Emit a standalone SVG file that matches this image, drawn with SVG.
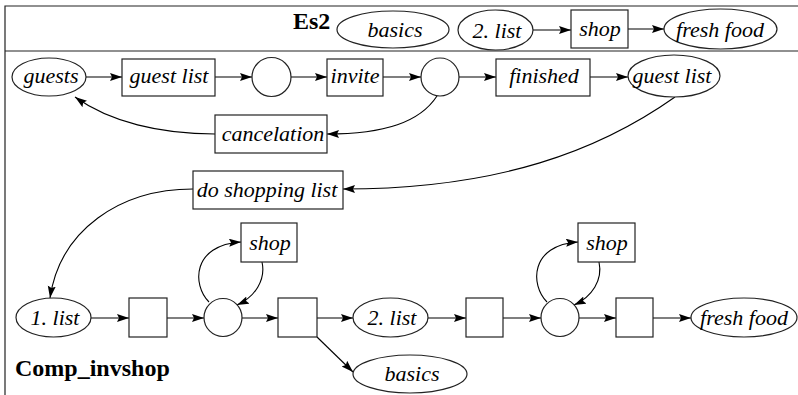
<svg xmlns="http://www.w3.org/2000/svg" width="798" height="395" viewBox="0 0 798 395">
<style>
.n{fill:#fff;stroke:#222;stroke-width:1.2}
.e{fill:none;stroke:#000;stroke-width:1.1;marker-end:url(#ah)}
.f{fill:none;stroke:#222;stroke-width:1.2}
</style>
<defs>
<marker id="ah" markerUnits="userSpaceOnUse" markerWidth="13" markerHeight="9" refX="12" refY="4" orient="auto">
<path d="M0,0 L12,4 L0,8 L2,4 z" fill="#000"/>
</marker>
</defs>
<g id="frame">
<path class="f" d="M5,395 V6 H798 M5,51 H798"/>
<text x="293" y="29" font-family="Liberation Serif" font-weight="bold" font-size="24">Es2</text>
<text x="15" y="376" font-family="Liberation Serif" font-weight="bold" font-size="24">Comp_invshop</text>
</g>
<g id="connectors">
<path class="e" d="M533,30 H571"/>
<path class="e" d="M628,29 H664"/>
<path class="e" d="M86,77 H122"/>
<path class="e" d="M215,77 H252"/>
<path class="e" d="M291,77 H327"/>
<path class="e" d="M383,77 H421"/>
<path class="e" d="M459,77 H496"/>
<path class="e" d="M590,77 H628"/>
<path class="e" d="M437,96 C420,122 385,134 327,134"/>
<path class="e" d="M215,134 C160,134 110,122 75,97"/>
<path class="e" d="M675,97 C600,150 500,189 343,189"/>
<path class="e" d="M193,189 C120,189 60,230 50,298"/>
<path class="e" d="M91,318 H129"/>
<path class="e" d="M167,318 H204"/>
<path class="e" d="M242,318 H278"/>
<path class="e" d="M317,318 H353"/>
<path class="e" d="M317,337 L353,372"/>
<path class="e" d="M209,302 C192,285 192,245 241,242"/>
<path class="e" d="M262,262 C266,280 255,297 237,305"/>
<path class="e" d="M428,318 H466"/>
<path class="e" d="M503,318 H541"/>
<path class="e" d="M579,318 H616"/>
<path class="e" d="M653,318 H691"/>
<path class="e" d="M547,302 C530,285 530,245 578,242"/>
<path class="e" d="M599,262 C603,280 592,297 574,305"/>
</g>
<g id="basics_top"><ellipse class="n" cx="393" cy="29.5" rx="56" ry="18.5"/><text x="395" y="37" text-anchor="middle" font-family="Liberation Serif" font-style="italic" font-size="22">basics</text></g>
<g id="list2_top"><ellipse class="n" cx="495.5" cy="30" rx="37.5" ry="20"/><text x="497" y="38" text-anchor="middle" font-family="Liberation Serif" font-style="italic" font-size="22">2. list</text></g>
<g id="shop_top"><rect class="n" x="571" y="10" width="57" height="38"/><text x="600" y="36" text-anchor="middle" font-family="Liberation Serif" font-style="italic" font-size="22">shop</text></g>
<g id="freshfood_top"><ellipse class="n" cx="720.5" cy="29" rx="56.5" ry="20"/><text x="720" y="37" text-anchor="middle" font-family="Liberation Serif" font-style="italic" font-size="22">fresh food</text></g>
<g id="guests"><ellipse class="n" cx="49" cy="77" rx="37" ry="19"/><text x="51" y="83" text-anchor="middle" font-family="Liberation Serif" font-style="italic" font-size="22">guests</text></g>
<g id="guestlist_t"><rect class="n" x="122" y="59" width="93" height="37"/><text x="169" y="83" text-anchor="middle" font-family="Liberation Serif" font-style="italic" font-size="22">guest list</text></g>
<g id="p1"><circle class="n" cx="271.5" cy="77" r="19.5"/></g>
<g id="invite"><rect class="n" x="327" y="59" width="56" height="37"/><text x="355" y="83" text-anchor="middle" font-family="Liberation Serif" font-style="italic" font-size="22">invite</text></g>
<g id="p2"><circle class="n" cx="440" cy="77" r="19"/></g>
<g id="finished"><rect class="n" x="496" y="59" width="94" height="37"/><text x="544" y="83" text-anchor="middle" font-family="Liberation Serif" font-style="italic" font-size="22">finished</text></g>
<g id="guestlist_p"><ellipse class="n" cx="674" cy="76" rx="46" ry="21"/><text x="672" y="83" text-anchor="middle" font-family="Liberation Serif" font-style="italic" font-size="22">guest list</text></g>
<g id="cancelation"><rect class="n" x="215" y="115" width="112" height="38"/><text x="273" y="141" text-anchor="middle" font-family="Liberation Serif" font-style="italic" font-size="22">cancelation</text></g>
<g id="doshopping"><rect class="n" x="193" y="171" width="150" height="38"/><text x="267" y="197" text-anchor="middle" font-family="Liberation Serif" font-style="italic" font-size="22">do shopping list</text></g>
<g id="list1"><ellipse class="n" cx="53.5" cy="317.5" rx="37.5" ry="19.5"/><text x="55" y="325" text-anchor="middle" font-family="Liberation Serif" font-style="italic" font-size="22">1. list</text></g>
<g id="t1"><rect class="n" x="129" y="298" width="38" height="39"/></g>
<g id="p3"><circle class="n" cx="223" cy="317.5" r="19"/></g>
<g id="shop_l"><rect class="n" x="241" y="223" width="56" height="39"/><text x="270" y="250" text-anchor="middle" font-family="Liberation Serif" font-style="italic" font-size="22">shop</text></g>
<g id="t2"><rect class="n" x="278" y="298" width="39" height="39"/></g>
<g id="list2_b"><ellipse class="n" cx="390.5" cy="317.5" rx="37.5" ry="19.5"/><text x="392" y="325" text-anchor="middle" font-family="Liberation Serif" font-style="italic" font-size="22">2. list</text></g>
<g id="basics_b"><ellipse class="n" cx="410" cy="374" rx="57" ry="19"/><text x="412" y="381" text-anchor="middle" font-family="Liberation Serif" font-style="italic" font-size="22">basics</text></g>
<g id="t3"><rect class="n" x="466" y="298" width="37" height="39"/></g>
<g id="p4"><circle class="n" cx="560" cy="317.5" r="19"/></g>
<g id="shop_r"><rect class="n" x="578" y="223" width="57" height="39"/><text x="607" y="250" text-anchor="middle" font-family="Liberation Serif" font-style="italic" font-size="22">shop</text></g>
<g id="t4"><rect class="n" x="616" y="298" width="37" height="39"/></g>
<g id="freshfood_b"><ellipse class="n" cx="744" cy="317.5" rx="53" ry="19.5"/><text x="744" y="325" text-anchor="middle" font-family="Liberation Serif" font-style="italic" font-size="22">fresh food</text></g>
</svg>
